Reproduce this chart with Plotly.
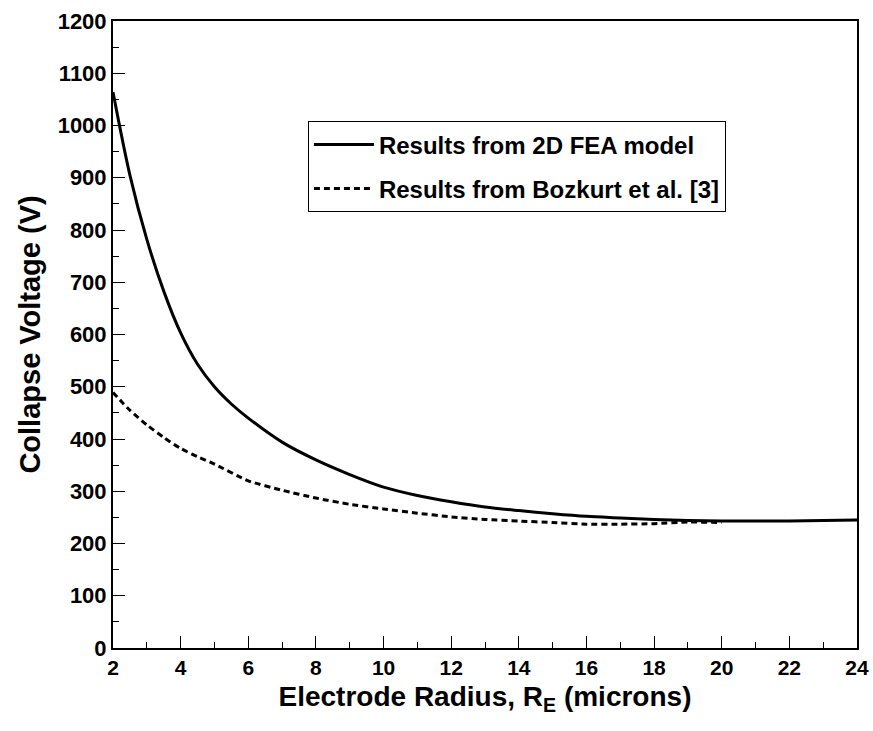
import plotly.graph_objects as go

# Data
x_fea = [2, 2.5, 3, 3.5, 4, 4.5, 5, 5.5, 6, 7, 8, 9, 10, 11, 12, 13, 14, 15, 16, 17, 18, 19, 20, 21, 22, 23, 24]
v_fea = [1064, 905, 782, 683, 603, 543, 500, 467, 440, 394, 360, 332, 308, 292, 280, 270, 263, 257, 252, 249, 246, 244, 243, 243, 243, 244, 245]

x_boz = [2, 2.5, 3, 3.5, 4, 4.5, 5, 6, 7, 8, 9, 10, 11, 12, 13, 14, 15, 16, 17, 18, 19, 20]
v_boz = [489, 455, 427, 403, 382, 366, 352, 320, 302, 287, 275, 266, 258, 251, 246, 243, 240, 237, 237, 238, 241, 240]

x_ticks = [2, 4, 6, 8, 10, 12, 14, 16, 18, 20, 22, 24]
y_ticks = [0, 100, 200, 300, 400, 500, 600, 700, 800, 900, 1000, 1100, 1200]

FONT = "Liberation Sans"

fig = go.Figure()
fig.add_trace(go.Scatter(
    x=x_fea, y=v_fea, mode="lines", name="Results from 2D FEA model",
    line=dict(color="black", width=3, shape="spline", smoothing=0.9),
    legendgroup="a",
))
fig.add_trace(go.Scatter(
    x=x_boz, y=v_boz, mode="lines", name="Results from Bozkurt et al. [3]",
    line=dict(color="black", width=3, dash="6px,4px", shape="spline", smoothing=0.6),
    legendgroup="b",
))

axis_common = dict(
    showline=True, linecolor="black", linewidth=2, mirror=True,
    showgrid=False, zeroline=False, automargin=False,
    ticks="inside", ticklen=12, tickwidth=1, tickcolor="black",
)

fig.update_xaxes(
    range=[2, 24], tickvals=x_ticks,
    tickfont=dict(family=FONT, size=21, color="black", weight="bold"),
    minor=dict(ticks="inside", ticklen=6, tickcolor="black", dtick=1, tick0=2),
    title=dict(text="Electrode Radius, R<sub>E</sub> (microns)",
               font=dict(family=FONT, size=28, color="black", weight="bold"), standoff=8),
    **axis_common,
)
fig.update_yaxes(
    range=[0, 1200], tickvals=y_ticks,
    tickfont=dict(family=FONT, size=22, color="black", weight="bold"),
    minor=dict(ticks="inside", ticklen=6, tickcolor="black", dtick=50, tick0=0),
    title=dict(text="Collapse Voltage (V)",
               font=dict(family=FONT, size=29, color="black", weight="bold"), standoff=8),
    **axis_common,
)

fig.update_layout(
    width=873, height=731,
    margin=dict(l=113, r=16, t=21, b=83),
    paper_bgcolor="white", plot_bgcolor="white",
    showlegend=True,
    legend=dict(
        x=0.262, y=0.84, xanchor="left", yanchor="top",
        bordercolor="black", borderwidth=1, bgcolor="white",
        font=dict(family=FONT, size=24, color="black", weight="bold"),
        tracegroupgap=10, itemwidth=60,
    ),
)

fig.write_html("out.html")
